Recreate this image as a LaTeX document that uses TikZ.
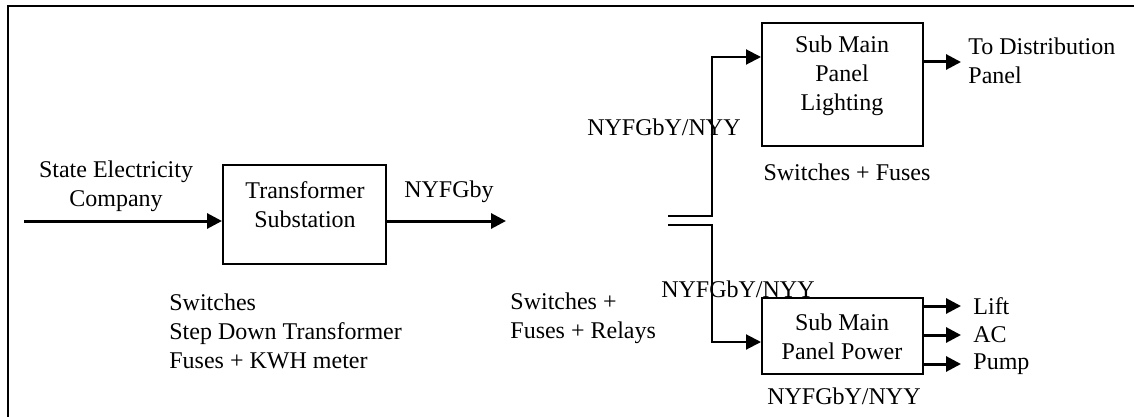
\documentclass[tikz,border=0pt]{standalone}
\usepackage{fontspec}
\setmainfont{Liberation Serif}
\usetikzlibrary{arrows.meta,calc}

\begin{document}
\begin{tikzpicture}[
      x=0.5pt, y=-0.5pt,
      every node/.style={font=\fontsize{12}{14.5}\selectfont, inner sep=0pt},
      blk/.style={draw, line width=1pt, minimum width=80.5pt},
      wire/.style={line width=1pt},
      feed/.style={line width=1.5pt, -{Triangle[length=7.5pt,width=7.5pt]}},
      txt/.style={align=center},
      ltxt/.style={align=left, anchor=west}
    ]
    \useasboundingbox (0,0) rectangle (1134,417);
    \draw[line width=1pt] (8,417) -- (8,6) -- (1134,6);

    % blocks
    \node[blk, minimum width=81.5pt, minimum height=49.5pt] (trf) at (304.5,214.5) {};
    \node[txt] (trfTxt) at (305,204.5) {Transformer\\Substation};
    \node[blk, minimum height=61.5pt] (light) at (842.5,84.5) {};
    \node[txt] (lightTxt) at (842,76) {Sub Main\\Panel\\Lighting};
    \node[blk, minimum height=38pt] (power) at (842.5,336) {};
    \node[txt] (powerTxt) at (842,336.5) {Sub Main\\Panel Power};

    % texts
    \node[txt] (src) at (116,186) {State Electricity\\Company};
    \node (cabA) at (449,192) {NYFGby};
    \node[ltxt] (swA) at (169,331.5) {Switches\\Step Down Transformer\\Fuses + KWH meter};
    \node[ltxt] (swB) at (510,318) {Switches +\\Fuses + Relays};
    \node (cabB) at (664,127) {NYFGbY/NYY};
    \node (cabC) at (738,289) {NYFGbY/NYY};
    \node (swC) at (847,172) {Switches + Fuses};
    \node[ltxt] (dist) at (968,61) {To Distribution\\Panel};
    \node (cabD) at (844,396) {NYFGbY/NYY};

    % feeders
    \coordinate (in) at (24,221);
    \coordinate (out) at (506,221);
    \coordinate (busU) at (668,216);
    \coordinate (busL) at (668,225);
    \draw[feed] (in) -- ([yshift=-3.25pt]trf.west);
    \draw[feed] ([yshift=-3.25pt]trf.east) -- (out);
    \draw[wire, -{Triangle[length=7.5pt,width=7.5pt]}]
      (busU) -- ++(44,0) |- ([yshift=13.75pt]light.west);
    \draw[wire, -{Triangle[length=7.5pt,width=7.5pt]}]
      (busL) -- ++(44,0) |- ([yshift=-3pt]power.west);
    \draw[feed] ([yshift=11.25pt]light.east) -- ++(37,0);

    \foreach \dy/\lab/\nm in {15/Lift/lift, 0.5/AC/ac, -14/Pump/pump}{
      \draw[feed] ([yshift=\dy pt]power.east) -- ++(37,0)
        coordinate (\nm End);
      \node[anchor=west] (\nm) at ([xshift=6pt]\nm End) {\lab};
    }

\end{tikzpicture}
\end{document}
